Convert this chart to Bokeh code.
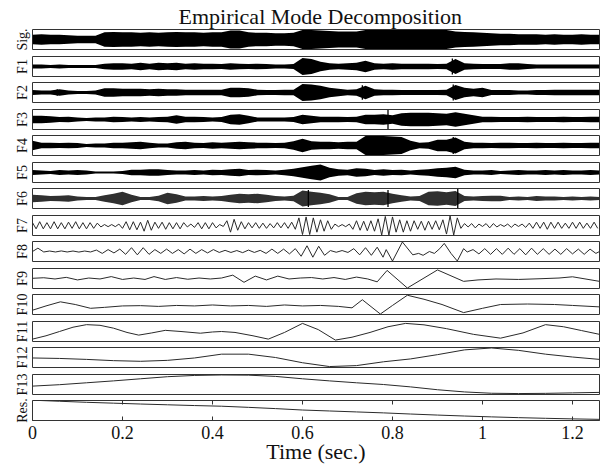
import numpy as np
from bokeh.plotting import figure
from bokeh.layouts import column
from bokeh.models import Range1d, FixedTicker
from bokeh.embed import file_html
from bokeh.resources import INLINE

# ---------------- data ----------------
panels = ["Sig.", "F1", "F2", "F3", "F4", "F5", "F6", "F7", "F8", "F9",
          "F10", "F11", "F12", "F13", "Res."]
x_ticks = [0, 0.2, 0.4, 0.6, 0.8, 1, 1.2]
T_END = 1.26

# envelope half-widths (fraction of panel half-height), every 0.02 s, for dense panels
ENV_STEP = 0.02
sig_env = [0.5, 0.55, 0.5, 0.5, 0.45, 0.4, 0.4, 0.4, 0.75, 0.8, 0.75, 0.75, 0.7, 0.75, 0.7, 0.75,
           0.8, 0.75, 0.75, 0.7, 0.75, 0.75, 0.95, 0.95, 0.75, 0.7, 0.7, 0.65, 0.65, 0.7, 1.0, 1.0,
           0.95, 0.9, 0.85, 0.85, 0.85, 1.0, 1.0, 1.0, 1.0, 1.0, 1.0, 1.0, 1.0, 1.0, 1.0, 0.85,
           0.8, 0.75, 0.7, 0.65, 0.6, 0.6, 0.55, 0.55, 0.55, 0.5, 0.55, 0.5, 0.5, 0.55, 0.5, 0.5]
f1_env = [0.2, 0.2, 0.15, 0.2, 0.15, 0.15, 0.15, 0.15, 0.3, 0.35, 0.35, 0.3, 0.4, 0.3, 0.4, 0.35,
          0.4, 0.3, 0.35, 0.3, 0.3, 0.25, 0.35, 0.3, 0.25, 0.3, 0.25, 0.2, 0.2, 0.25, 0.9, 0.8,
          0.5, 0.35, 0.3, 0.35, 0.4, 0.6, 0.35, 0.3, 0.35, 0.3, 0.3, 0.3, 0.3, 0.25, 0.3, 0.8,
          0.35, 0.3, 0.25, 0.25, 0.25, 0.35, 0.35, 0.25, 0.2, 0.2, 0.2, 0.2, 0.2, 0.2, 0.2, 0.2]
f2_env = [0.25, 0.2, 0.2, 0.35, 0.2, 0.15, 0.15, 0.2, 0.45, 0.45, 0.4, 0.4, 0.4, 0.35, 0.4, 0.35,
          0.35, 0.3, 0.3, 0.3, 0.3, 0.3, 0.5, 0.5, 0.45, 0.3, 0.25, 0.25, 0.3, 0.3, 0.9, 0.85,
          0.7, 0.5, 0.4, 0.3, 0.35, 0.7, 0.35, 0.3, 0.3, 0.25, 0.25, 0.25, 0.25, 0.25, 0.3, 0.8,
          0.5, 0.4, 0.5, 0.25, 0.25, 0.25, 0.2, 0.2, 0.25, 0.25, 0.3, 0.3, 0.3, 0.3, 0.3, 0.3]
f3_env = [0.4, 0.4, 0.35, 0.25, 0.3, 0.2, 0.15, 0.2, 0.2, 0.3, 0.25, 0.2, 0.25, 0.2, 0.25, 0.3,
          0.45, 0.3, 0.3, 0.25, 0.2, 0.25, 0.5, 0.55, 0.4, 0.2, 0.2, 0.2, 0.2, 0.25, 0.5, 0.4,
          0.3, 0.3, 0.3, 0.25, 0.3, 0.5, 0.5, 0.55, 0.45, 0.65, 0.7, 0.7, 0.7, 0.65, 0.6, 0.75,
          0.6, 0.45, 0.3, 0.3, 0.25, 0.25, 0.25, 0.3, 0.25, 0.25, 0.25, 0.3, 0.25, 0.25, 0.3, 0.3]
f4_env = [0.5, 0.3, 0.3, 0.25, 0.3, 0.25, 0.15, 0.2, 0.2, 0.3, 0.3, 0.35, 0.4, 0.3, 0.2, 0.2,
          0.35, 0.4, 0.3, 0.25, 0.35, 0.3, 0.35, 0.4, 0.35, 0.3, 0.3, 0.25, 0.3, 0.45, 0.7, 0.45,
          0.4, 0.4, 0.35, 0.4, 0.4, 1.0, 1.0, 1.0, 0.95, 0.9, 0.5, 0.3, 0.35, 0.6, 0.6, 0.85,
          0.4, 0.3, 0.3, 0.25, 0.3, 0.3, 0.25, 0.25, 0.3, 0.25, 0.25, 0.3, 0.25, 0.25, 0.3, 0.3]
f5_env = [0.25, 0.2, 0.15, 0.25, 0.2, 0.25, 0.2, 0.1, 0.1, 0.1, 0.15, 0.3, 0.3, 0.35, 0.35, 0.25,
          0.2, 0.2, 0.25, 0.2, 0.3, 0.25, 0.35, 0.4, 0.25, 0.3, 0.25, 0.2, 0.3, 0.4, 0.55, 0.7,
          0.85, 0.5, 0.35, 0.3, 0.45, 0.4, 0.25, 0.35, 0.25, 0.3, 0.2, 0.3, 0.35, 0.45, 0.5, 0.6,
          0.3, 0.2, 0.2, 0.25, 0.15, 0.2, 0.25, 0.2, 0.2, 0.25, 0.2, 0.25, 0.2, 0.2, 0.25, 0.2]
f6_env = [0.4, 0.35, 0.25, 0.3, 0.35, 0.2, 0.15, 0.15, 0.35, 0.5, 0.7, 0.4, 0.15, 0.15, 0.3, 0.6,
          0.45, 0.2, 0.2, 0.25, 0.2, 0.25, 0.4, 0.5, 0.45, 0.5, 0.4, 0.25, 0.2, 0.3, 0.85, 0.7,
          0.6, 0.45, 0.15, 0.15, 0.55, 0.7, 0.65, 0.7, 0.5, 0.35, 0.2, 0.25, 0.7, 0.75, 0.65, 0.8,
          0.25, 0.2, 0.25, 0.3, 0.3, 0.15, 0.2, 0.15, 0.25, 0.2, 0.2, 0.15, 0.2, 0.15, 0.2, 0.15]

# narrow spikes in the dense panels
spike_panel = ["F1", "F2", "F2", "F2", "F3", "F4", "F6", "F6", "F6"]
spike_t = [0.933, 0.055, 0.733, 0.935, 0.79, 0.935, 0.613, 0.79, 0.945]
spike_a = [0.85, 0.35, 0.75, 0.85, 1.0, 0.9, 0.9, 0.9, 1.0]

# F7: successive extrema, one every 0.008 s
F7_STEP = 0.008
f7 = [0.3, -0.35, 0.4, -0.35, 0.3, -0.35, 0.4, -0.35, 0.3, -0.35, 0.35, -0.3, 0.4, -0.35, 0.3, -0.35, 0.3, -0.3, 0.25,
      -0.15, 0.1, -0.12, 0.1, -0.12, 0.15,
      -0.3, 0.4, -0.45, 0.4, -0.45, 0.35,
      -0.6, 0.55, -0.5,
      0.35, -0.3, 0.35, -0.4, 0.3, -0.35, 0.3, -0.35, 0.3, -0.15, 0.15, -0.2, 0.3, -0.35, 0.3, -0.35, 0.3, -0.25,
      0.1, -0.1,
      0.5, -0.7, 0.65, -0.5, 0.4, -0.35,
      0.3, -0.25, 0.3, -0.3, 0.25, -0.3, 0.2, -0.25, 0.3, -0.25, 0.3, -0.3, 0.35, -0.4,
      0.8, -0.95, 0.9, -0.95, 0.8, -0.7,
      0.6, -0.6, 0.5, -0.4,
      0.15, -0.12, 0.1, -0.12, 0.15,
      -0.4, 0.5, -0.5, 0.45, -0.55, 0.5, -0.6, 0.7,
      -1.0, 0.95, -1.0, 0.9,
      -0.7, 0.6, -0.7, 0.5, -0.6, 0.5,
      -0.4, 0.45, -0.5, 0.45, -0.4, 0.5, -0.45, 0.6,
      -0.9, 1.0, -1.0, 0.8,
      -0.3, 0.2, -0.15, 0.2, -0.25, 0.15, -0.1, 0.2, -0.25, 0.2, -0.15, 0.1, -0.1, 0.15, -0.2, 0.15, -0.1, 0.15, -0.2,
      0.25, -0.3, 0.35, -0.3, 0.35, -0.4, 0.35, -0.3, 0.35, -0.3, 0.25, -0.3, 0.35, -0.3, 0.35, -0.3, 0.25, -0.3, 0.35, -0.3]

# F8: extrema (time, value)
f8_t = [0.0, 0.012, 0.025, 0.038, 0.051, 0.064, 0.077, 0.090, 0.103, 0.116, 0.129,
        0.142, 0.155, 0.168, 0.181, 0.194, 0.207, 0.220, 0.233, 0.246, 0.259,
        0.272, 0.285, 0.298, 0.311, 0.324, 0.337, 0.350, 0.363, 0.376, 0.389, 0.402,
        0.415, 0.428, 0.441, 0.454, 0.467, 0.480, 0.493, 0.506,
        0.519, 0.532, 0.545, 0.558, 0.571, 0.584, 0.597, 0.610, 0.623, 0.636, 0.649,
        0.662, 0.675, 0.688, 0.701, 0.714, 0.727, 0.740, 0.753, 0.766, 0.779,
        0.786, 0.800, 0.822, 0.845, 0.858, 0.868, 0.882, 0.893, 0.905, 0.915, 0.930, 0.944, 0.958, 0.966,
        0.979, 0.992, 1.005, 1.018, 1.031, 1.044, 1.057, 1.070, 1.083, 1.096, 1.109, 1.122,
        1.135, 1.148, 1.161, 1.174, 1.187, 1.200, 1.213, 1.226, 1.239, 1.252, 1.26]
f8_y = [0.0, 0.35, -0.05, 0.05, -0.05, 0.06, -0.05, 0.05, -0.06, 0.05, -0.05,
        0.15, -0.2, 0.2, -0.15, 0.25, -0.3, 0.4, -0.35, 0.4, -0.3,
        0.2, -0.2, 0.25, -0.2, 0.2, -0.25, 0.25, -0.2, 0.2, -0.15, 0.2,
        -0.1, 0.12, -0.1, 0.1, -0.12, 0.15, -0.1, 0.12,
        -0.2, 0.25, -0.2, 0.25, -0.25, 0.3, -0.5, 0.6, -0.6, 0.55, -0.4,
        0.1, -0.08, 0.1, -0.1, 0.3, -0.35, 0.4, -0.4, 0.45, -0.6,
        0.2, -1.0, 1.0, -0.35, -0.2, -0.4, 0.0, -0.2, 0.3, 0.85, -0.2, -1.0, 0.3, -0.05,
        0.2, -0.25, 0.3, -0.3, 0.3, -0.3, 0.35, -0.3, 0.3, -0.35, 0.35, -0.3,
        0.3, -0.3, 0.25, -0.3, 0.3, -0.25, 0.25, -0.3, 0.25, -0.2, 0.0]

# F9
f9_t = [0.0, 0.025, 0.05, 0.075, 0.10, 0.125, 0.15, 0.175, 0.2, 0.225, 0.25, 0.27, 0.295, 0.32,
        0.345, 0.37, 0.395, 0.42, 0.445, 0.47, 0.495, 0.52, 0.545, 0.57, 0.595, 0.62, 0.645,
        0.67, 0.695, 0.72, 0.745, 0.766, 0.788, 0.833, 0.90, 0.958, 0.99, 1.03, 1.08, 1.13,
        1.17, 1.2, 1.26]
f9_y = [0.02, 0.08, -0.05, 0.12, -0.15, 0.05, -0.05, 0.2, -0.1, 0.05, -0.1, 0.2, -0.1, 0.1,
        -0.08, 0.05, -0.05, 0.05, 0.35, -0.4, 0.25, -0.15, 0.25, -0.05, 0.05, 0.1, -0.05,
        0.1, -0.1, 0.15, -0.05, -0.35, 0.85, -1.0, 0.9, -0.3, -0.15, -0.05, -0.1, -0.02,
        0.05, 0.18, -0.3]

# F10
f10_t = [0.0, 0.03, 0.062, 0.095, 0.129, 0.16, 0.2, 0.24, 0.28, 0.32, 0.36, 0.40, 0.44, 0.48,
         0.52, 0.56, 0.6, 0.64, 0.68, 0.71, 0.733, 0.773, 0.80, 0.833, 0.87, 0.91, 0.958, 1.0,
         1.04, 1.1, 1.16, 1.2, 1.26]
f10_y = [-0.6, -0.15, 0.28, 0.0, -0.4, -0.3, -0.15, -0.12, -0.2, -0.1, -0.15, -0.05, -0.15, -0.1,
         -0.2, -0.05, -0.15, -0.1, -0.2, -0.35, 0.5, -1.0, -0.1, 0.97, 0.55, 0.0, -0.85, -0.4,
         0.0, 0.05, 0.0, -0.1, -0.25]

# F11
f11_t = [0.0, 0.03, 0.06, 0.09, 0.12, 0.15, 0.18, 0.21, 0.236, 0.265, 0.295, 0.33, 0.373, 0.40,
         0.42, 0.45, 0.49, 0.524, 0.56, 0.6, 0.635, 0.673, 0.71, 0.75, 0.79, 0.829, 0.87, 0.92,
         0.98, 1.04, 1.09, 1.14, 1.18, 1.22, 1.26]
f11_y = [-0.8, -0.45, 0.0, 0.45, 0.72, 0.65, 0.35, -0.1, -0.38, -0.15, 0.12, 0.0, -0.18, -0.05,
         0.0, -0.1, -0.45, -0.8, -0.1, 0.85, 0.2, -0.9, -0.6, -0.1, 0.5, 0.85, 0.7, 0.3,
         -0.3, -0.7, -0.15, 0.72, 0.5, 0.1, -0.3]

# F12, F13, residue: one value every 0.06 s
SLOW_STEP = 0.06
f12 = [-0.05, -0.1, -0.2, -0.33, -0.4, -0.3, -0.05, 0.35, 0.35, 0.0, -0.55, -0.95, -0.85, -0.45,
       -0.15, 0.3, 0.8, 1.0, 0.75, 0.35, 0.05, -0.2]
f13 = [-0.17, -0.02, 0.18, 0.38, 0.6, 0.82, 0.95, 1.0, 0.98, 0.85, 0.6, 0.38, 0.18, 0.0,
       -0.25, -0.55, -0.78, -0.92, -0.95, -0.93, -0.88, -0.83]
res = [1.08, 0.97, 0.86, 0.77, 0.68, 0.6, 0.52, 0.45, 0.33, 0.2, 0.05, -0.05, -0.15, -0.25,
       -0.37, -0.48, -0.58, -0.67, -0.75, -0.82, -0.88, -0.93]

# ---------------- drawing ----------------
FONT = "Liberation Serif"
LINE_COLOR = "#2a2a2a"
dense = {"Sig.": sig_env, "F1": f1_env, "F2": f2_env, "F3": f3_env,
         "F4": f4_env, "F5": f5_env, "F6": f6_env}
dense_color = {"F6": "#303030"}
lines = {"F7": (np.arange(len(f7)) * F7_STEP, f7),
         "F8": (f8_t, f8_y), "F9": (f9_t, f9_y), "F10": (f10_t, f10_y),
         "F11": (f11_t, f11_y),
         "F12": (np.arange(len(f12)) * SLOW_STEP, f12),
         "F13": (np.arange(len(f13)) * SLOW_STEP, f13),
         "Res.": (np.arange(len(res)) * SLOW_STEP, res)}

FRAME_W, FRAME_H, LEFT, TOP0, PAD = 567, 20, 32, 29, 3
TICK_LEN = 4
tops = [TOP0 + (53 * i + 1) // 2 for i in range(len(panels))]

xr = Range1d(0, T_END)
figs = []
for i, name in enumerate(panels):
    last = i == len(panels) - 1
    top_border = TOP0 if i == 0 else PAD
    bottom_border = 0 if last else tops[i + 1] - tops[i] - FRAME_H - PAD
    fig = figure(x_range=xr, y_range=Range1d(-1.05, 1.05),
                 frame_width=FRAME_W, frame_height=FRAME_H,
                 min_border_left=LEFT, min_border_right=2,
                 min_border_top=top_border,
                 min_border_bottom=bottom_border,
                 toolbar_location=None, output_backend="svg",
                 x_axis_location="below" if last else None)
    fig.grid.visible = False
    fig.outline_line_color = "#333333"
    fig.outline_line_width = 1
    fig.background_fill_color = "white"
    fig.border_fill_color = "white"

    ya = fig.yaxis[0]
    ya.ticker = FixedTicker(ticks=[])
    ya.axis_line_color = None
    ya.major_tick_line_color = None
    ya.minor_tick_line_color = None
    ya.axis_label = name
    ya.axis_label_text_font = FONT
    ya.axis_label_text_font_size = "14px"
    ya.axis_label_text_font_style = "normal"
    ya.axis_label_text_color = "#111111"
    ya.axis_label_standoff = 3

    if name in dense:
        env = np.array(dense[name])
        xs = np.arange(len(env)) * ENV_STEP
        fig.varea(x=xs, y1=-env, y2=env, fill_color=dense_color.get(name, "black"))
        st = [t for pn, t in zip(spike_panel, spike_t) if pn == name]
        sa = [a for pn, a in zip(spike_panel, spike_a) if pn == name]
        if st:
            fig.segment(x0=st, y0=[-a for a in sa], x1=st, y1=sa,
                        line_color="black", line_width=1.3)
    else:
        xs, ys = lines[name]
        fig.line(x=xs, y=ys, line_color=LINE_COLOR, line_width=1)

    if i == 0:
        fig.title.text = "Empirical Mode Decomposition"
        fig.title.align = "left"
        fig.title.offset = 146
        fig.title.text_font = FONT
        fig.title.text_font_size = "22px"
        fig.title.text_font_style = "normal"
        fig.title.text_color = "#111111"
        fig.title.standoff = 1

    if last:
        xa = fig.xaxis[0]
        xa.ticker = FixedTicker(ticks=x_ticks)
        xa.major_label_overrides = {0: "0", 1: "1"}
        xa.major_tick_in = TICK_LEN
        xa.major_tick_out = 0
        xa.minor_tick_line_color = None
        xa.axis_line_color = "#333333"
        xa.major_tick_line_color = "#333333"
        xa.major_label_text_font = FONT
        xa.major_label_text_font_size = "18px"
        xa.major_label_text_color = "#111111"
        xa.major_label_standoff = 5
        xa.axis_label = "Time (sec.)"
        xa.axis_label_text_font = FONT
        xa.axis_label_text_font_size = "22px"
        xa.axis_label_text_font_style = "normal"
        xa.axis_label_text_color = "#111111"
        xa.axis_label_standoff = -3
        # inward ticks along the top edge of the bottom panel (pixel-unit range)
        fig.extra_y_ranges = {"px": Range1d(0, FRAME_H)}
        fig.segment(x0=x_ticks, x1=x_ticks,
                    y0=[FRAME_H] * len(x_ticks), y1=[FRAME_H - TICK_LEN] * len(x_ticks),
                    y_range_name="px", line_color="#333333", line_width=1)
    figs.append(fig)

layout = column(*figs, spacing=0)
open("out.html", "w").write(file_html(layout, INLINE))
